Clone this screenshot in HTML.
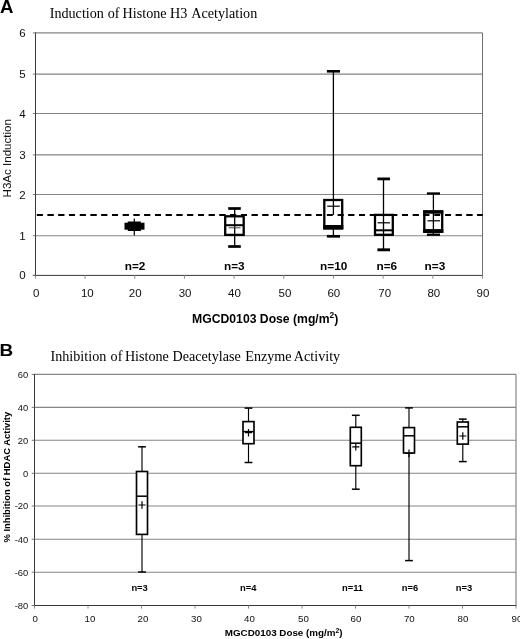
<!DOCTYPE html>
<html><head><meta charset="utf-8"><title>Figure</title>
<style>
html,body{margin:0;padding:0;background:#fff}
svg{display:block}
.s{font-family:"Liberation Sans",sans-serif}
.t{font-family:"Liberation Serif",serif}
.b{font-weight:bold}
</style></head><body>
<svg width="520" height="639" viewBox="0 0 520 639">
<defs><filter id="soft" x="0" y="0" width="520" height="639" filterUnits="userSpaceOnUse"><feGaussianBlur stdDeviation="0.3"/></filter></defs>
<rect width="520" height="639" fill="#fff"/>
<g filter="url(#soft)">
<g id="panelA">
<line x1="35.4" y1="235.70" x2="482.5" y2="235.70" stroke="#858585" stroke-width="1.1"/>
<line x1="35.4" y1="194.50" x2="482.5" y2="194.50" stroke="#858585" stroke-width="1.1"/>
<line x1="35.4" y1="154.90" x2="482.5" y2="154.90" stroke="#858585" stroke-width="1.1"/>
<line x1="35.4" y1="113.50" x2="482.5" y2="113.50" stroke="#858585" stroke-width="1.1"/>
<line x1="35.4" y1="74.10" x2="482.5" y2="74.10" stroke="#858585" stroke-width="1.1"/>
<line x1="35.4" y1="32.90" x2="482.5" y2="32.90" stroke="#858585" stroke-width="1.1"/>
<line x1="482.5" y1="32.9" x2="482.5" y2="275.3" stroke="#707070" stroke-width="1"/>
<line x1="35.5" y1="32.4" x2="35.5" y2="275.8" stroke="#383838" stroke-width="1"/>
<line x1="32.9" y1="275.4" x2="483.0" y2="275.4" stroke="#383838" stroke-width="1"/>
<line x1="32.8" y1="275.30" x2="35.4" y2="275.30" stroke="#777" stroke-width="1"/>
<text class="s" x="25.7" y="279.40" font-size="11.5" text-anchor="end" fill="#111">0</text>
<line x1="32.8" y1="235.70" x2="35.4" y2="235.70" stroke="#777" stroke-width="1"/>
<text class="s" x="25.7" y="239.80" font-size="11.5" text-anchor="end" fill="#111">1</text>
<line x1="32.8" y1="194.50" x2="35.4" y2="194.50" stroke="#777" stroke-width="1"/>
<text class="s" x="25.7" y="198.60" font-size="11.5" text-anchor="end" fill="#111">2</text>
<line x1="32.8" y1="154.90" x2="35.4" y2="154.90" stroke="#777" stroke-width="1"/>
<text class="s" x="25.7" y="159.00" font-size="11.5" text-anchor="end" fill="#111">3</text>
<line x1="32.8" y1="113.50" x2="35.4" y2="113.50" stroke="#777" stroke-width="1"/>
<text class="s" x="25.7" y="117.60" font-size="11.5" text-anchor="end" fill="#111">4</text>
<line x1="32.8" y1="74.10" x2="35.4" y2="74.10" stroke="#777" stroke-width="1"/>
<text class="s" x="25.7" y="78.20" font-size="11.5" text-anchor="end" fill="#111">5</text>
<line x1="32.8" y1="32.90" x2="35.4" y2="32.90" stroke="#777" stroke-width="1"/>
<text class="s" x="25.7" y="37.00" font-size="11.5" text-anchor="end" fill="#111">6</text>
<line x1="35.40" y1="275.3" x2="35.40" y2="278.7" stroke="#8a8a8a" stroke-width="1"/>
<text class="s" x="36.30" y="297.3" font-size="11.5" text-anchor="middle" fill="#111">0</text>
<line x1="85.08" y1="275.3" x2="85.08" y2="278.7" stroke="#8a8a8a" stroke-width="1"/>
<text class="s" x="87.38" y="297.3" font-size="11.5" text-anchor="middle" fill="#111">10</text>
<line x1="134.76" y1="275.3" x2="134.76" y2="278.7" stroke="#8a8a8a" stroke-width="1"/>
<text class="s" x="135.16" y="297.3" font-size="11.5" text-anchor="middle" fill="#111">20</text>
<line x1="184.43" y1="275.3" x2="184.43" y2="278.7" stroke="#8a8a8a" stroke-width="1"/>
<text class="s" x="185.13" y="297.3" font-size="11.5" text-anchor="middle" fill="#111">30</text>
<line x1="234.11" y1="275.3" x2="234.11" y2="278.7" stroke="#8a8a8a" stroke-width="1"/>
<text class="s" x="234.51" y="297.3" font-size="11.5" text-anchor="middle" fill="#111">40</text>
<line x1="283.79" y1="275.3" x2="283.79" y2="278.7" stroke="#8a8a8a" stroke-width="1"/>
<text class="s" x="284.99" y="297.3" font-size="11.5" text-anchor="middle" fill="#111">50</text>
<line x1="333.47" y1="275.3" x2="333.47" y2="278.7" stroke="#8a8a8a" stroke-width="1"/>
<text class="s" x="333.87" y="297.3" font-size="11.5" text-anchor="middle" fill="#111">60</text>
<line x1="383.14" y1="275.3" x2="383.14" y2="278.7" stroke="#8a8a8a" stroke-width="1"/>
<text class="s" x="384.64" y="297.3" font-size="11.5" text-anchor="middle" fill="#111">70</text>
<line x1="432.82" y1="275.3" x2="432.82" y2="278.7" stroke="#8a8a8a" stroke-width="1"/>
<text class="s" x="433.82" y="297.3" font-size="11.5" text-anchor="middle" fill="#111">80</text>
<line x1="482.50" y1="275.3" x2="482.50" y2="278.7" stroke="#8a8a8a" stroke-width="1"/>
<text class="s" x="482.90" y="297.3" font-size="11.5" text-anchor="middle" fill="#111">90</text>
<line x1="36.9" y1="214.9" x2="482.5" y2="214.9" stroke="#000" stroke-width="2.05" stroke-dasharray="5.9 4.84"/>
<line x1="134.3" y1="218.6" x2="134.3" y2="235.6" stroke="#000" stroke-width="1.2"/>
<rect x="124.5" y="222.7" width="20.0" height="7.0" fill="#000"/>
<rect x="127.8" y="221.5" width="13.0" height="9.5" fill="#000"/>
<rect x="225.2" y="216.3" width="18.5" height="18.6" fill="#fff" stroke="#000" stroke-width="2.3"/>
<line x1="234.7" y1="208.5" x2="234.7" y2="246.5" stroke="#000" stroke-width="1.3"/>
<line x1="228.2" y1="208.5" x2="240.8" y2="208.5" stroke="#000" stroke-width="2.7"/>
<line x1="228.2" y1="246.5" x2="240.8" y2="246.5" stroke="#000" stroke-width="2.7"/>
<line x1="225.2" y1="225.2" x2="243.7" y2="225.2" stroke="#000" stroke-width="2"/>
<line x1="228.6" y1="227.8" x2="240.6" y2="227.8" stroke="#444" stroke-width="1"/>
<rect x="324.3" y="200.0" width="17.9" height="28.3" fill="#fff" stroke="#000" stroke-width="2.3"/>
<rect x="323.2" y="225.0" width="20.1" height="4.5" fill="#000"/>
<line x1="333.4" y1="71.3" x2="333.4" y2="215" stroke="#000" stroke-width="1.3"/>
<line x1="333.4" y1="229" x2="333.4" y2="236.3" stroke="#000" stroke-width="1.3"/>
<line x1="326.9" y1="71.3" x2="340" y2="71.3" stroke="#000" stroke-width="2.6"/>
<line x1="326.9" y1="236.3" x2="340" y2="236.3" stroke="#000" stroke-width="2.7"/>
<line x1="327.2" y1="206.2" x2="339.8" y2="206.2" stroke="#000" stroke-width="1.2"/>
<rect x="375.0" y="214.9" width="17.8" height="19.9" fill="#fff" stroke="#000" stroke-width="2.3"/>
<line x1="383.5" y1="178.9" x2="383.5" y2="249.8" stroke="#000" stroke-width="1.3"/>
<line x1="377.4" y1="178.9" x2="390" y2="178.9" stroke="#000" stroke-width="2.8"/>
<line x1="377.4" y1="249.8" x2="390" y2="249.8" stroke="#000" stroke-width="2.9"/>
<line x1="375" y1="230.3" x2="392.8" y2="230.3" stroke="#000" stroke-width="2"/>
<line x1="377.6" y1="222.8" x2="390" y2="222.8" stroke="#000" stroke-width="1.2"/>
<rect x="424.3" y="211.5" width="17.9" height="20.2" fill="#fff" stroke="#000" stroke-width="2.3"/>
<rect x="423.2" y="210.3" width="20.1" height="3.4" fill="#000"/>
<rect x="423.2" y="229.1" width="20.1" height="3.8" fill="#000"/>
<line x1="433.4" y1="193.5" x2="433.4" y2="234.7" stroke="#000" stroke-width="1.3"/>
<line x1="426.9" y1="193.5" x2="440" y2="193.5" stroke="#000" stroke-width="2.3"/>
<line x1="426.9" y1="234.7" x2="440" y2="234.7" stroke="#000" stroke-width="2.3"/>
<line x1="427.5" y1="220.8" x2="440" y2="220.8" stroke="#000" stroke-width="1.2"/>
<line x1="36.9" y1="214.9" x2="482.5" y2="214.9" stroke="#000" stroke-width="2.05" stroke-dasharray="5.9 4.84"/>
<text class="s b" x="135" y="270.4" font-size="11.8" text-anchor="middle" fill="#000">n=2</text>
<text class="s b" x="234.3" y="270.4" font-size="11.8" text-anchor="middle" fill="#000">n=3</text>
<text class="s b" x="333.7" y="270.4" font-size="11.8" text-anchor="middle" fill="#000">n=10</text>
<text class="s b" x="386.8" y="270.4" font-size="11.8" text-anchor="middle" fill="#000">n=6</text>
<text class="s b" x="434.9" y="270.4" font-size="11.8" text-anchor="middle" fill="#000">n=3</text>
<text class="s b" transform="translate(-0.1,12.6) scale(1.05,1)" font-size="17.7" fill="#000">A</text>
<text class="t" y="17.9" font-size="14.15" fill="#000"><tspan x="49.7">Induction</tspan> <tspan x="107.8">of</tspan> <tspan x="122.6">Histone</tspan> <tspan x="170.1">H3</tspan> <tspan x="191.3">Acetylation</tspan></text>
<text class="s" transform="translate(10.7,197.4) rotate(-90)" font-size="11.55" fill="#111">H3Ac Induction</text>
<text class="s b" x="192.1" y="322.7" font-size="12.2" fill="#000">MGCD0103 Dose (mg/m<tspan font-size="8.4" dy="-4.4">2</tspan><tspan dy="4.4">)</tspan></text>
</g>
<g id="panelB">
<line x1="34.5" y1="572.20" x2="516.0" y2="572.20" stroke="#858585" stroke-width="1.1"/>
<line x1="34.5" y1="539.20" x2="516.0" y2="539.20" stroke="#858585" stroke-width="1.1"/>
<line x1="34.5" y1="506.00" x2="516.0" y2="506.00" stroke="#858585" stroke-width="1.1"/>
<line x1="34.5" y1="473.30" x2="516.0" y2="473.30" stroke="#858585" stroke-width="1.1"/>
<line x1="34.5" y1="440.30" x2="516.0" y2="440.30" stroke="#858585" stroke-width="1.1"/>
<line x1="34.5" y1="407.40" x2="516.0" y2="407.40" stroke="#858585" stroke-width="1.1"/>
<line x1="34.5" y1="374.40" x2="516.0" y2="374.40" stroke="#858585" stroke-width="1.1"/>
<line x1="516.0" y1="374.4" x2="516.0" y2="605.6" stroke="#858585" stroke-width="1.2"/>
<line x1="34.5" y1="373.9" x2="34.5" y2="606.1" stroke="#383838" stroke-width="1"/>
<line x1="32.0" y1="605.5" x2="516.5" y2="605.5" stroke="#383838" stroke-width="1"/>
<line x1="31.7" y1="605.60" x2="34.5" y2="605.60" stroke="#777" stroke-width="1"/>
<text class="s" x="28.3" y="609.00" font-size="9.4" text-anchor="end" fill="#111">-80</text>
<line x1="31.7" y1="572.20" x2="34.5" y2="572.20" stroke="#777" stroke-width="1"/>
<text class="s" x="28.3" y="575.60" font-size="9.4" text-anchor="end" fill="#111">-60</text>
<line x1="31.7" y1="539.20" x2="34.5" y2="539.20" stroke="#777" stroke-width="1"/>
<text class="s" x="28.3" y="542.60" font-size="9.4" text-anchor="end" fill="#111">-40</text>
<line x1="31.7" y1="506.00" x2="34.5" y2="506.00" stroke="#777" stroke-width="1"/>
<text class="s" x="28.3" y="509.40" font-size="9.4" text-anchor="end" fill="#111">-20</text>
<line x1="31.7" y1="473.30" x2="34.5" y2="473.30" stroke="#777" stroke-width="1"/>
<text class="s" x="28.3" y="476.70" font-size="9.4" text-anchor="end" fill="#111">0</text>
<line x1="31.7" y1="440.30" x2="34.5" y2="440.30" stroke="#777" stroke-width="1"/>
<text class="s" x="28.3" y="443.70" font-size="9.4" text-anchor="end" fill="#111">20</text>
<line x1="31.7" y1="407.40" x2="34.5" y2="407.40" stroke="#777" stroke-width="1"/>
<text class="s" x="28.3" y="410.80" font-size="9.4" text-anchor="end" fill="#111">40</text>
<line x1="31.7" y1="374.40" x2="34.5" y2="374.40" stroke="#777" stroke-width="1"/>
<text class="s" x="28.3" y="377.80" font-size="9.4" text-anchor="end" fill="#111">60</text>
<line x1="34.50" y1="605.6" x2="34.50" y2="608.6" stroke="#8a8a8a" stroke-width="1"/>
<text class="s" x="35.30" y="622.1" font-size="9.7" text-anchor="middle" fill="#111">0</text>
<line x1="88.00" y1="605.6" x2="88.00" y2="608.6" stroke="#8a8a8a" stroke-width="1"/>
<text class="s" x="90.00" y="622.1" font-size="9.7" text-anchor="middle" fill="#111">10</text>
<line x1="141.50" y1="605.6" x2="141.50" y2="608.6" stroke="#8a8a8a" stroke-width="1"/>
<text class="s" x="143.00" y="622.1" font-size="9.7" text-anchor="middle" fill="#111">20</text>
<line x1="195.00" y1="605.6" x2="195.00" y2="608.6" stroke="#8a8a8a" stroke-width="1"/>
<text class="s" x="196.50" y="622.1" font-size="9.7" text-anchor="middle" fill="#111">30</text>
<line x1="248.50" y1="605.6" x2="248.50" y2="608.6" stroke="#8a8a8a" stroke-width="1"/>
<text class="s" x="249.50" y="622.1" font-size="9.7" text-anchor="middle" fill="#111">40</text>
<line x1="302.00" y1="605.6" x2="302.00" y2="608.6" stroke="#8a8a8a" stroke-width="1"/>
<text class="s" x="303.50" y="622.1" font-size="9.7" text-anchor="middle" fill="#111">50</text>
<line x1="355.50" y1="605.6" x2="355.50" y2="608.6" stroke="#8a8a8a" stroke-width="1"/>
<text class="s" x="356.00" y="622.1" font-size="9.7" text-anchor="middle" fill="#111">60</text>
<line x1="409.00" y1="605.6" x2="409.00" y2="608.6" stroke="#8a8a8a" stroke-width="1"/>
<text class="s" x="409.30" y="622.1" font-size="9.7" text-anchor="middle" fill="#111">70</text>
<line x1="462.50" y1="605.6" x2="462.50" y2="608.6" stroke="#8a8a8a" stroke-width="1"/>
<text class="s" x="463.00" y="622.1" font-size="9.7" text-anchor="middle" fill="#111">80</text>
<line x1="516.00" y1="605.6" x2="516.00" y2="608.6" stroke="#8a8a8a" stroke-width="1"/>
<text class="s" x="517.00" y="622.1" font-size="9.7" text-anchor="middle" fill="#111">90</text>
<line x1="142.0" y1="446.8" x2="142.0" y2="572.0" stroke="#000" stroke-width="1.15"/>
<rect x="136.5" y="471.5" width="11.0" height="62.89999999999998" fill="#fff" stroke="#000" stroke-width="1.65"/>
<line x1="138.1" y1="446.8" x2="145.9" y2="446.8" stroke="#000" stroke-width="1.5"/>
<line x1="138.1" y1="572.0" x2="145.9" y2="572.0" stroke="#000" stroke-width="1.5"/>
<line x1="136.5" y1="496.2" x2="147.5" y2="496.2" stroke="#000" stroke-width="1.5"/>
<path d="M138.4 505.0H145.6M142.0 501.2V508.8" stroke="#000" stroke-width="1.2" fill="none"/>
<line x1="248.5" y1="408.1" x2="248.5" y2="462.5" stroke="#000" stroke-width="1.15"/>
<rect x="243.0" y="421.6" width="11.0" height="22.099999999999966" fill="#fff" stroke="#000" stroke-width="1.65"/>
<line x1="244.6" y1="408.1" x2="252.4" y2="408.1" stroke="#000" stroke-width="1.5"/>
<line x1="244.6" y1="462.5" x2="252.4" y2="462.5" stroke="#000" stroke-width="1.5"/>
<line x1="243.0" y1="431.6" x2="254.0" y2="431.6" stroke="#000" stroke-width="1.5"/>
<path d="M244.9 432.7H252.1M248.5 428.9V436.5" stroke="#000" stroke-width="1.2" fill="none"/>
<line x1="355.8" y1="415.3" x2="355.8" y2="489.2" stroke="#000" stroke-width="1.15"/>
<rect x="350.3" y="427.3" width="11.0" height="38.39999999999998" fill="#fff" stroke="#000" stroke-width="1.65"/>
<line x1="351.90000000000003" y1="415.3" x2="359.7" y2="415.3" stroke="#000" stroke-width="1.5"/>
<line x1="351.90000000000003" y1="489.2" x2="359.7" y2="489.2" stroke="#000" stroke-width="1.5"/>
<line x1="350.3" y1="443.2" x2="361.3" y2="443.2" stroke="#000" stroke-width="1.5"/>
<path d="M352.2 446.8H359.40000000000003M355.8 443.0V450.6" stroke="#000" stroke-width="1.2" fill="none"/>
<line x1="409.0" y1="407.9" x2="409.0" y2="560.6" stroke="#000" stroke-width="1.15"/>
<rect x="403.5" y="427.6" width="11.0" height="25.399999999999977" fill="#fff" stroke="#000" stroke-width="1.65"/>
<line x1="405.1" y1="407.9" x2="412.9" y2="407.9" stroke="#000" stroke-width="1.5"/>
<line x1="405.1" y1="560.6" x2="412.9" y2="560.6" stroke="#000" stroke-width="1.5"/>
<line x1="403.5" y1="435.8" x2="414.5" y2="435.8" stroke="#000" stroke-width="1.5"/>
<path d="M405.4 453.4H412.6M409.0 449.59999999999997V457.2" stroke="#000" stroke-width="1.2" fill="none"/>
<line x1="462.8" y1="419.1" x2="462.8" y2="461.6" stroke="#000" stroke-width="1.15"/>
<rect x="457.3" y="422.0" width="11.0" height="22.100000000000023" fill="#fff" stroke="#000" stroke-width="1.65"/>
<line x1="458.90000000000003" y1="419.1" x2="466.7" y2="419.1" stroke="#000" stroke-width="1.5"/>
<line x1="458.90000000000003" y1="461.6" x2="466.7" y2="461.6" stroke="#000" stroke-width="1.5"/>
<line x1="457.3" y1="426.8" x2="468.3" y2="426.8" stroke="#000" stroke-width="1.5"/>
<path d="M459.2 436.0H466.40000000000003M462.8 432.2V439.8" stroke="#000" stroke-width="1.2" fill="none"/>
<text class="s b" x="139.6" y="590.7" font-size="9.4" text-anchor="middle" fill="#000">n=3</text>
<text class="s b" x="248.3" y="590.7" font-size="9.4" text-anchor="middle" fill="#000">n=4</text>
<text class="s b" x="352.5" y="590.7" font-size="9.4" text-anchor="middle" fill="#000">n=11</text>
<text class="s b" x="410" y="590.7" font-size="9.4" text-anchor="middle" fill="#000">n=6</text>
<text class="s b" x="464.0" y="590.7" font-size="9.4" text-anchor="middle" fill="#000">n=3</text>
<text class="s b" transform="translate(-0.4,356.2) scale(1.1,1)" font-size="17.2" fill="#000">B</text>
<text class="t" y="360.7" font-size="14.15" fill="#000"><tspan x="50.5">Inhibition</tspan> <tspan x="110.6">of</tspan> <tspan x="124.9">Histone</tspan> <tspan x="172.5">Deacetylase</tspan> <tspan x="245.3">Enzyme</tspan> <tspan x="293.8">Activity</tspan></text>
<text class="s b" transform="translate(10,542.6) rotate(-90)" font-size="9.42" fill="#000">% Inhibition of HDAC Activity</text>
<text class="s b" x="224.8" y="636.4" font-size="9.82" fill="#000">MGCD0103 Dose (mg/m<tspan font-size="6.8" dy="-3.5">2</tspan><tspan dy="3.5">)</tspan></text>
</g>
</g>
</svg></body></html>
